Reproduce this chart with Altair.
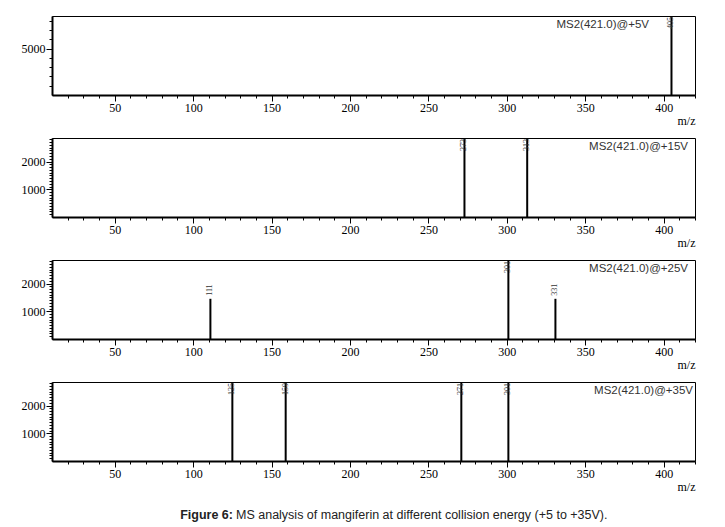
import altair as alt
import pandas as pd

# ---- data ----
panel_names = ["MS2(421.0)@+5V", "MS2(421.0)@+15V", "MS2(421.0)@+25V", "MS2(421.0)@+35V"]
panel_ymax = [8500, 2850, 2850, 2850]

p1_mz = [405]
p1_int = [8500]
p2_mz = [273, 313]
p2_int = [2850, 2850]
p3_mz = [111, 301, 331]
p3_int = [1450, 2850, 1450]
p4_mz = [125, 159, 271, 301]
p4_int = [2850, 2850, 2850, 2850]

peaks = [(p1_mz, p1_int), (p2_mz, p2_int), (p3_mz, p3_int), (p4_mz, p4_int)]

x_domain = [10, 420]
x_major = [50, 100, 150, 200, 250, 300, 350, 400]
x_minor = list(range(20, 421, 10))

label_x_px = [597, 636, 636, 641]  # right edge of panel caption inside frame

W, H = 643, 79

serif = "Liberation Serif"
sans = "Liberation Sans"


def panel(i):
    mz, inten = peaks[i]
    ymax = panel_ymax[i]
    df = pd.DataFrame({"mz": mz, "intensity": inten, "lab": [str(m) for m in mz]})
    df["top"] = df["intensity"] >= ymax * 0.98

    if i == 0:
        y_major = [5000]
        y_minor = list(range(1000, 8001, 1000))
    else:
        y_major = [1000, 2000]
        y_minor = list(range(100, 2801, 100))

    xs = alt.Scale(domain=x_domain, nice=False, zero=False)
    ys = alt.Scale(domain=[0, ymax], nice=False)

    common = dict(grid=False, domainColor="black", tickColor="black", tickWidth=1,
                  labelColor="black", labelOverlap=False, labelFlush=False)

    x_main = alt.X(
        "mz:Q", scale=xs,
        axis=alt.Axis(
            values=x_major, tickSize=6, title="m/z", titleAnchor="end",
            titleFont=serif, titleFontSize=12, titleFontWeight="normal", titlePadding=2,
            labelFont=serif, labelFontSize=12, labelPadding=1, domainWidth=2,
            format="d", orient="bottom", **common,
        ),
    )
    y_main = alt.Y(
        "intensity:Q", scale=ys,
        axis=alt.Axis(
            values=y_major, tickSize=6, title=None, labelFont=serif, labelFontSize=12,
            labelPadding=1, domainWidth=2, format="d", orient="left", **common,
        ),
    )
    x_min = alt.X(
        "mz:Q", scale=xs,
        axis=alt.Axis(values=x_minor, tickSize=3, labels=False, domain=False, title=None,
                      orient="bottom", grid=False, tickColor="black"),
    )
    y_min = alt.Y(
        "intensity:Q", scale=ys,
        axis=alt.Axis(values=y_minor, tickSize=3, labels=False, domain=False, title=None,
                      orient="left", grid=False, tickColor="black"),
    )
    x_none = alt.X("mz:Q", scale=xs, axis=None)
    y_none = alt.Y("intensity:Q", scale=ys, axis=None)

    base = alt.Chart(df)
    sticks = base.mark_rule(color="black", strokeWidth=2).encode(
        x=x_main, y=y_main, y2=alt.datum(0)
    )
    ghost = base.mark_point(opacity=0).encode(x=x_min, y=y_min)
    lab_free = base.transform_filter("!datum.top").mark_text(
        angle=270, align="left", baseline="middle", dx=3, fontSize=8, font=serif, color="#333"
    ).encode(x=x_none, y=y_none, text="lab:N")
    lab_top = base.transform_filter("datum.top").mark_text(
        angle=270, align="right", baseline="middle", dx=-1, fontSize=8, font=serif, color="#333"
    ).encode(x=x_none, y=y_none, text="lab:N")
    name = alt.Chart(pd.DataFrame({"t": [panel_names[i]]})).mark_text(
        align="right", baseline="middle", font=sans, fontSize=11.5, color="#333"
    ).encode(x=alt.value(label_x_px[i]), y=alt.value(9), text="t:N")

    return (
        alt.layer(sticks, ghost, lab_free, lab_top, name)
        .resolve_axis(x="independent", y="independent")
        .properties(width=W, height=H)
    )


caption_df = pd.DataFrame({"bold": ["Figure 6:"], "rest": ["MS analysis of mangiferin at different collision energy (+5 to +35V)."]})
cap_bold = alt.Chart(caption_df).mark_text(
    align="right", baseline="middle", font=sans, fontSize=12.5, fontWeight="bold", color="#222"
).encode(x=alt.value(181), y=alt.value(14), text="bold:N")
cap_rest = alt.Chart(caption_df).mark_text(
    align="left", baseline="middle", font=sans, fontSize=12.5, color="#222"
).encode(x=alt.value(184), y=alt.value(14), text="rest:N")
caption = alt.layer(cap_bold, cap_rest).properties(
    width=W, height=26, view=alt.ViewConfig(stroke="transparent")
)

chart = alt.vconcat(
    panel(0), panel(1), panel(2), panel(3), caption, spacing=7
).properties(
    padding={"left": 12, "top": 4, "right": 5, "bottom": 0},
    background="white",
).configure_view(
    stroke="black", strokeWidth=1
)

chart.save("out.html", embed_options={"renderer": "svg", "actions": False})
